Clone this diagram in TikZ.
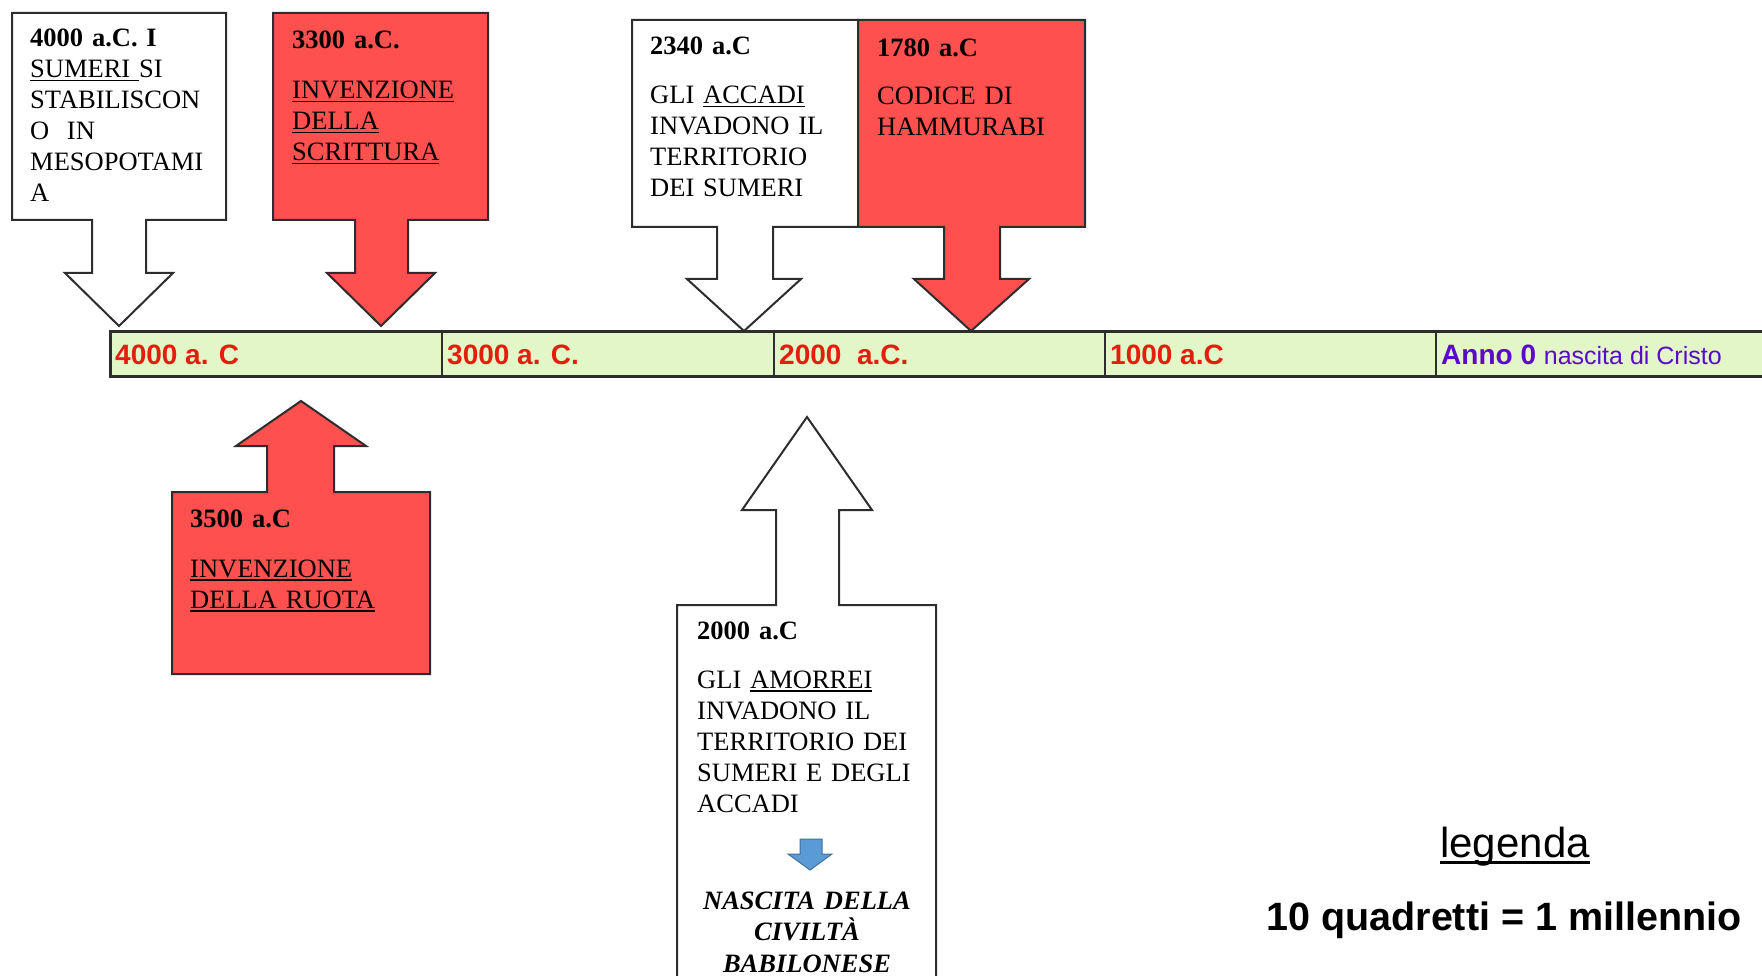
\documentclass[tikz,border=0pt]{standalone}
\usepackage{fontspec}
\setmainfont{Liberation Serif}
\newfontfamily\arialfont{Liberation Sans}
\usepackage{graphicx}
\definecolor{redfill}{RGB}{255,80,80}
\definecolor{barfill}{RGB}{226,246,200}
\definecolor{labelred}{RGB}{228,30,12}
\definecolor{annopurple}{RGB}{90,10,200}
\definecolor{edgegray}{RGB}{45,45,45}
\definecolor{bluefill}{RGB}{91,155,213}
\definecolor{blueedge}{RGB}{65,113,156}
% underline: #1 depth, #2 thickness, #3 text
\newcommand\myul[3]{\leavevmode\setbox0\hbox{#3}\rlap{\rule[-#1]{\wd0}{#2}}\box0}
\newcommand\tul[1]{\myul{3.5pt}{1.6pt}{#1}}
\tikzset{
  callout/.style={draw=edgegray, line width=2pt, line join=miter},
  redcallout/.style={callout, fill=redfill},
  whitecallout/.style={callout, fill=white},
  boxtext/.style={anchor=base west, inner sep=0pt, align=left, text width=230pt,
    font=\fontsize{26.5}{31}\selectfont},
  barlabel/.style={anchor=base west, inner sep=0pt, text=labelred,
    font=\arialfont\bfseries\fontsize{28}{30}\selectfont},
}
\begin{document}
\begin{tikzpicture}[x=1pt,y=-1pt]
\useasboundingbox (0,0) rectangle (1762,976);
\fill[white] (0,0) rectangle (1762,976);

% timeline bar
\draw[fill=barfill, draw=edgegray, line width=3pt] (110,332) rectangle (1780,376);
\foreach \xx in {442,774,1105,1436}
  \draw[edgegray, line width=2pt] (\xx,332) -- (\xx,376);

\node[barlabel] (l4000) at (115,364) {4000 a. C};
\node[barlabel] (l3000) at (447,364) {3000 a. C.};
\node[barlabel] (l2000) at (779,364) {2000\ \ a.C.};
\node[barlabel] (l1000) at (1110,364) {1000 a.C};
\node[anchor=base west, inner sep=0pt, text=annopurple] (lanno) at (1441,364)
  {\arialfont\bfseries\fontsize{28}{30}\selectfont Anno 0 \mdseries\fontsize{25}{30}\selectfont nascita di Cristo};

% top callouts
\draw[whitecallout] (12,13) -- (226,13) -- (226,220) -- (146,220) -- (146,273) -- (173,273)
  -- (119,326) -- (65,273) -- (92,273) -- (92,220) -- (12,220) -- cycle;
\draw[redcallout] (273,13) -- (488,13) -- (488,220) -- (408,220) -- (408,273) -- (435,273)
  -- (381,326) -- (327,273) -- (355,273) -- (355,220) -- (273,220) -- cycle;
\draw[whitecallout] (632,20) -- (858,20) -- (858,227) -- (773,227) -- (773,279) -- (801,279)
  -- (744,331) -- (687,279) -- (717,279) -- (717,227) -- (632,227) -- cycle;
\draw[redcallout] (858,20) -- (1085,20) -- (1085,227) -- (1000,227) -- (1000,279) -- (1029,279)
  -- (971,331) -- (914,279) -- (944,279) -- (944,227) -- (858,227) -- cycle;

% bottom callouts
\draw[redcallout] (172,492) -- (267,492) -- (267,446) -- (236,446) -- (301,401) -- (366,446)
  -- (334,446) -- (334,492) -- (430,492) -- (430,674) -- (172,674) -- cycle;
\draw[whitecallout] (677,605) -- (776,605) -- (776,510) -- (742,510) -- (807,417) -- (872,510)
  -- (839,510) -- (839,605) -- (936,605) -- (936,995) -- (677,995) -- cycle;

% texts
\node[boxtext] (t4000) at (30,47) {\textbf{4000 a.C. I}\\
  \tul{SUMERI }SI\\ STABILISCON\\ O\ \ IN\\ MESOPOTAMI\\ A};
\node[boxtext] (t3300) at (292,49) {\textbf{3300 a.C.}\\[19pt]
  \tul{INVENZIONE}\\ \tul{DELLA}\\ \tul{SCRITTURA}};
\node[boxtext] (t2340) at (650,55) {\textbf{2340 a.C}\\[18pt]
  GLI \tul{ACCADI}\\ INVADONO IL\\ TERRITORIO\\ DEI SUMERI};
\node[boxtext] (t1780) at (877,57) {\textbf{1780 a.C}\\[17pt]
  CODICE DI\\ HAMMURABI};
\node[boxtext] (t3500) at (190,527) {\textbf{3500 a.C}\\[19pt]
  \tul{INVENZIONE}\\ \tul{DELLA RUOTA}};
\node[boxtext] (t2000) at (697,639) {\textbf{2000 a.C}\\[18pt]
  GLI \tul{AMORREI}\\ INVADONO IL\\ TERRITORIO DEI\\ SUMERI E DEGLI\\ ACCADI};

% small blue arrow
\draw[fill=bluefill, draw=blueedge, line width=1pt] (800,839) -- (822,839) -- (822,854) -- (832,854)
  -- (810,870) -- (788,854) -- (800,854) -- cycle;

\node[anchor=base, inner sep=0pt, align=center, text width=240pt,
  font=\bfseries\itshape\fontsize{26.5}{31.5}\selectfont] (tbab) at (807,909)
  {NASCITA DELLA\\ CIVILTÀ\\ BABILONESE};

% legend
\node[anchor=base, inner sep=0pt, font=\arialfont\fontsize{42}{46}\selectfont] (leg) at (1515,857)
  {\myul{7pt}{3pt}{legenda}};
\node[anchor=base, inner sep=0pt, font=\arialfont\bfseries\fontsize{39.5}{44}\selectfont] (scale) at (1504,930)
  {10 quadretti = 1 millennio};
\end{tikzpicture}
\end{document}
